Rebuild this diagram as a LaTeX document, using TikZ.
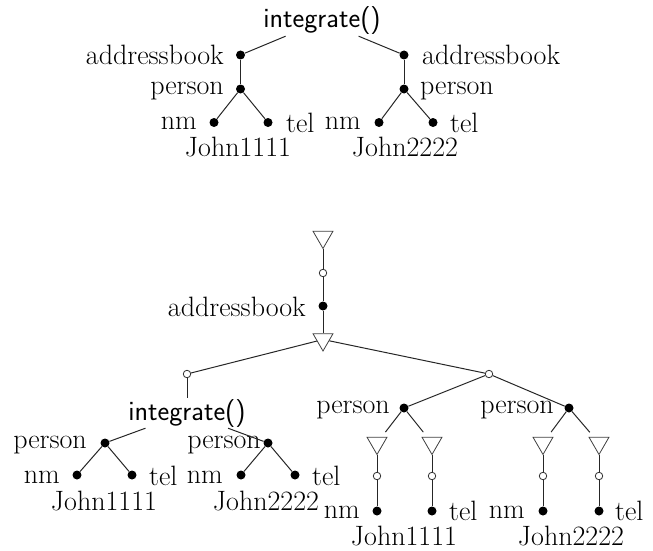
\documentclass[tikz,border=0pt]{standalone}
\usetikzlibrary{shapes.geometric}
\begin{document}
\begin{tikzpicture}[x=1pt,y=-1pt,
  dotn/.style={circle,fill=black,inner sep=0pt,minimum size=9pt},
  ocirc/.style={circle,draw=black!80,fill=white,line width=0.8pt,inner sep=0pt,minimum size=7.5pt},
  tri/.style={regular polygon,regular polygon sides=3,shape border rotate=180,draw=black!75,line width=0.8pt,inner sep=0pt,minimum size=23pt},
  lbl/.style={inner sep=1pt,font=\fontsize{28}{32}\selectfont},
  slbl/.style={inner sep=1pt,font=\fontsize{28}{32}\selectfont\sffamily},
  edge/.style={draw=black!85,line width=1pt},
  gapedge/.style={edge,shorten >=6pt}]
\useasboundingbox (0,0) rectangle (653,551);

% ---------- top tree ----------
\node[slbl,anchor=base] (T) at (322,28) {integrate()};
\node[dotn] (a1) at (240.5,55) {};
\node[dotn] (a2) at (404,55) {};
\node[lbl,anchor=base east] (a1l) at (225,65) {addressbook};
\node[lbl,anchor=base west] (a2l) at (421,65) {addressbook};
\node[dotn] (p1) at (240.5,89) {};
\node[dotn] (p2) at (404,89) {};
\node[lbl,anchor=base east] (p1l) at (225,94) {person};
\node[lbl,anchor=base west] (p2l) at (419,94) {person};
\node[dotn] (n1) at (214,122.5) {};
\node[dotn] (t1) at (268,122.5) {};
\node[dotn] (n2) at (379,122.5) {};
\node[dotn] (t2) at (433,122.5) {};
\node[lbl,anchor=base east] (n1l) at (198,129.5) {nm};
\node[lbl,anchor=base west] (t1l) at (285,132.5) {tel};
\node[lbl,anchor=base east] (n2l) at (362,129.5) {nm};
\node[lbl,anchor=base west] (t2l) at (449,132.5) {tel};
\node[lbl,anchor=base] (j1) at (238,156) {John1111};
\node[lbl,anchor=base] (j2) at (405,156) {John2222};

\draw[edge] (T) -- (a1);
\draw[edge] (T) -- (a2);
\draw[edge] (a1) -- (p1);
\draw[edge] (a2) -- (p2);
\draw[edge] (p1) -- (n1);
\draw[edge] (p1) -- (t1);
\draw[edge] (p2) -- (n2);
\draw[edge] (p2) -- (t2);

% ---------- bottom tree ----------
\node[tri] (r0) at (323,237) {};
\node[ocirc] (rc) at (323,273) {};
\node[dotn] (ab) at (323,306) {};
\node[lbl,anchor=base east] (abl) at (307,316) {addressbook};
\node[tri] (r1) at (323,339.5) {};
\node[ocirc] (c2) at (187,374) {};
\node[ocirc] (c3) at (489,374) {};

\draw[edge] (r0.corner 1) -- (rc);
\draw[edge] (rc) -- (ab);
\draw[edge] (ab) -- (r1);
\draw[edge] (r1) -- (c2);
\draw[edge] (r1) -- (c3);

% left subtree
\node[slbl,anchor=base] (I2) at (187,420) {integrate()};
\node[dotn] (q1) at (105,443) {};
\node[dotn] (q2) at (268,443) {};
\node[lbl,anchor=base east] (q1l) at (88,448) {person};
\node[lbl,anchor=base east] (q2l) at (262,448) {person};
\node[dotn] (m1) at (77,475) {};
\node[dotn] (e1) at (132,475) {};
\node[dotn] (m2) at (241,475) {};
\node[dotn] (e2) at (295,475) {};
\node[lbl,anchor=base east] (m1l) at (61,483) {nm};
\node[lbl,anchor=base west] (e1l) at (148,485) {tel};
\node[lbl,anchor=base east] (m2l) at (224,483) {nm};
\node[lbl,anchor=base west] (e2l) at (311,485) {tel};
\node[lbl,anchor=base] (k1) at (104,510) {John1111};
\node[lbl,anchor=base] (k2) at (266,510) {John2222};

\draw[edge] (c2) -- (I2);
\draw[edge] (I2) -- (q1);
\draw[edge] (I2) -- (q2);
\draw[edge] (q1) -- (m1);
\draw[edge] (q1) -- (e1);
\draw[edge] (q2) -- (m2);
\draw[edge] (q2) -- (e2);

% right subtree
\node[dotn] (s1) at (404,408) {};
\node[dotn] (s2) at (569,408) {};
\node[lbl,anchor=base east] (s1l) at (391,413) {person};
\node[lbl,anchor=base east] (s2l) at (555,413) {person};
\draw[edge] (c3) -- (s1);
\draw[edge] (c3) -- (s2);

\node[tri] (ta) at (377,443) {};
\node[tri] (tb) at (432,443) {};
\node[tri] (tc) at (543,443) {};
\node[tri] (td) at (599,443) {};
\node[ocirc] (oa) at (377,476) {};
\node[ocirc] (ob) at (432,476) {};
\node[ocirc] (oc) at (543,476) {};
\node[ocirc] (od) at (599,476) {};
\node[dotn] (fa) at (377,511) {};
\node[dotn] (fb) at (432,511) {};
\node[dotn] (fc) at (543,511) {};
\node[dotn] (fd) at (599,511) {};
\node[lbl,anchor=base east] (fal) at (361,518) {nm};
\node[lbl,anchor=base west] (fbl) at (448,520) {tel};
\node[lbl,anchor=base east] (fcl) at (526,518) {nm};
\node[lbl,anchor=base west] (fdl) at (614,520) {tel};
\node[lbl,anchor=base] (ja) at (404,545) {John1111};
\node[lbl,anchor=base] (jb) at (571,545) {John2222};

\draw[gapedge] (s1) -- (ta);
\draw[gapedge] (s1) -- (tb);
\draw[gapedge] (s2) -- (tc);
\draw[gapedge] (s2) -- (td);
\foreach \t/\o/\f in {ta/oa/fa,tb/ob/fb,tc/oc/fc,td/od/fd}{
  \draw[edge] (\t.corner 1) -- (\o);
  \draw[edge] (\o) -- (\f);
}
\end{tikzpicture}
\end{document}
